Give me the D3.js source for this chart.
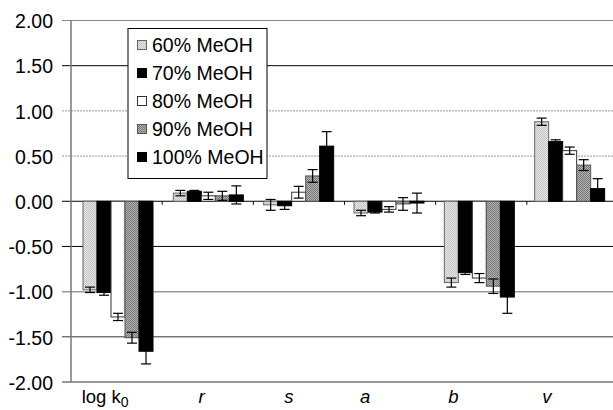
<!DOCTYPE html>
<html><head><meta charset="utf-8">
<script src="https://cdn.jsdelivr.net/npm/d3@7"></script>
<style>body{margin:0;background:#fff}svg{display:block}text{font-family:"Liberation Sans",Arial,sans-serif}</style>
</head><body><svg id="c" width="613" height="410"></svg>
<script>
const categories = ["log k0","r","s","a","b","v"];
const series = ["60% MeOH","70% MeOH","80% MeOH","90% MeOH","100% MeOH"];
const vals60  = [-0.98, 0.09, -0.04, -0.13, -0.90, 0.88];
const vals70  = [-1.01, 0.11, -0.05, -0.12, -0.79, 0.66];
const vals80  = [-1.28, 0.06,  0.10, -0.09, -0.85, 0.56];
const vals90  = [-1.51, 0.06,  0.28, -0.03, -0.94, 0.40];
const vals100 = [-1.66, 0.07,  0.61, -0.02, -1.06, 0.14];
const err60  = [0.03, 0.03, 0.06, 0.03, 0.05, 0.04];
const err70  = [0.03, 0.01, 0.04, 0.01, 0.02, 0.02];
const err80  = [0.04, 0.04, 0.065, 0.03, 0.05, 0.04];
const err90  = [0.06, 0.05, 0.07, 0.07, 0.08, 0.06];
const err100 = [0.14, 0.10, 0.16, 0.11, 0.18, 0.11];
const yTicks = [-2, -1.5, -1, -0.5, 0, 0.5, 1, 1.5, 2];

const values = [vals60, vals70, vals80, vals90, vals100];
const errs = [err60, err70, err80, err90, err100];

const svg = d3.select("#c");
const defs = svg.append("defs");
function checker(id, c1, c2){
  const p = defs.append("pattern").attr("id", id).attr("width", 2).attr("height", 2).attr("patternUnits", "userSpaceOnUse");
  p.append("rect").attr("width", 2).attr("height", 2).attr("fill", c1);
  p.append("rect").attr("width", 1).attr("height", 1).attr("fill", c2);
  p.append("rect").attr("x", 1).attr("y", 1).attr("width", 1).attr("height", 1).attr("fill", c2);
}
checker("p60", "#e6e6e6", "#c4c4c4");
checker("p90", "#b0b0b0", "#7a7a7a");
const fills = ["url(#p60)", "#000", "#fff", "url(#p90)", "#000"];
const strokes = ["#666", "#000", "#333", "#555", "#000"];

const x = d3.scaleBand().domain(categories).range([71, 613]);
const xt = d3.scaleBand().domain(categories).range([71, 618]);
const xs = d3.scaleBand().domain(series).range([12, 82]);
const y = d3.scaleLinear().domain([-2, 2]).range([382, 20.5]);

const gridStyle = {"2":["#888",1,null],"1.5":["#000",1,null],"1":["#999",1,"2,1"],"0.5":["#999",1,"2,1"],"0":["#000",1,null],"-0.5":["#000",1,null],"-1":["#999",1.5,null],"-1.5":["#333",1,null],"-2":["#777",1.5,null]};
svg.append("g").selectAll("line").data(yTicks).join("line")
  .attr("x1", 62).attr("x2", 613)
  .attr("y1", d => y(d)).attr("y2", d => y(d))
  .attr("stroke", d => gridStyle[String(d)][0])
  .attr("stroke-width", d => gridStyle[String(d)][1])
  .attr("stroke-dasharray", d => gridStyle[String(d)][2]);
svg.append("line").attr("x1", 71).attr("x2", 71).attr("y1", y(2)).attr("y2", y(-2)).attr("stroke", "#777").attr("stroke-width", 1.5);

const fmt = d3.format(".2f");
svg.append("g").selectAll("text").data(yTicks).join("text")
  .attr("x", 53).attr("y", d => y(d)).attr("dy", "0.4em")
  .attr("text-anchor", "end").attr("font-size", 19.5).attr("fill", "#000")
  .text(d => fmt(d).replace("\u2212", "-"));

svg.append("g").selectAll("line").data(categories.slice(1)).join("line")
  .attr("x1", d => xt(d)).attr("x2", d => xt(d))
  .attr("y1", y(0)).attr("y2", y(0) + 3.5).attr("stroke", "#000");

const lg = svg.append("g");
lg.append("rect").attr("x", 128).attr("y", 28.5).attr("width", 139).attr("height", 150)
  .attr("fill", "#fff").attr("stroke", "#000").attr("stroke-width", 1);
series.forEach((s, i) => {
  const cy = 45 + i * 28;
  lg.append("rect").attr("x", 137.5).attr("y", cy - 4.5).attr("width", 9).attr("height", 9)
    .attr("fill", fills[i]).attr("stroke", strokes[i]).attr("stroke-width", 1);
  lg.append("text").attr("x", 152).attr("y", cy).attr("dy", "0.36em")
    .attr("font-size", 19.5).attr("fill", "#000").text(s);
});

series.forEach((s, si) => {
  const g = svg.append("g");
  g.selectAll("rect").data(categories).join("rect")
    .attr("x", (c) => x(c) + xs(s))
    .attr("width", xs.bandwidth())
    .attr("y", (c, i) => y(Math.max(0, values[si][i])))
    .attr("height", (c, i) => Math.abs(y(values[si][i]) - y(0)))
    .attr("fill", fills[si]).attr("stroke", strokes[si]).attr("stroke-width", 1);
});
series.forEach((s, si) => {
  const g = svg.append("g").attr("stroke", "#000").attr("stroke-width", 1.2);
  categories.forEach((c, i) => {
    const cx = x(c) + xs(s) + xs.bandwidth() / 2;
    const v = values[si][i], e = errs[si][i];
    const y1 = y(v + e), y2 = y(v - e);
    g.append("line").attr("x1", cx).attr("x2", cx).attr("y1", y1).attr("y2", y2);
    g.append("line").attr("x1", cx - 5).attr("x2", cx + 5).attr("y1", y1).attr("y2", y1);
    g.append("line").attr("x1", cx - 5).attr("x2", cx + 5).attr("y1", y2).attr("y2", y2);
  });
});

const labelDx = [-11, -5, -8, -22, -24, -21];
const lab = svg.append("g");
categories.forEach((c, i) => {
  const t = lab.append("text").attr("x", x(c) + x.bandwidth() / 2 + labelDx[i]).attr("y", 403)
    .attr("text-anchor", "middle").attr("font-size", 18.5).attr("fill", "#000");
  if (c === "log k0") {
    t.append("tspan").text("log k");
    t.append("tspan").attr("dy", 4).attr("font-size", 14).text("0");
  } else {
    t.attr("font-style", "italic").text(c);
  }
});
</script></body></html>
